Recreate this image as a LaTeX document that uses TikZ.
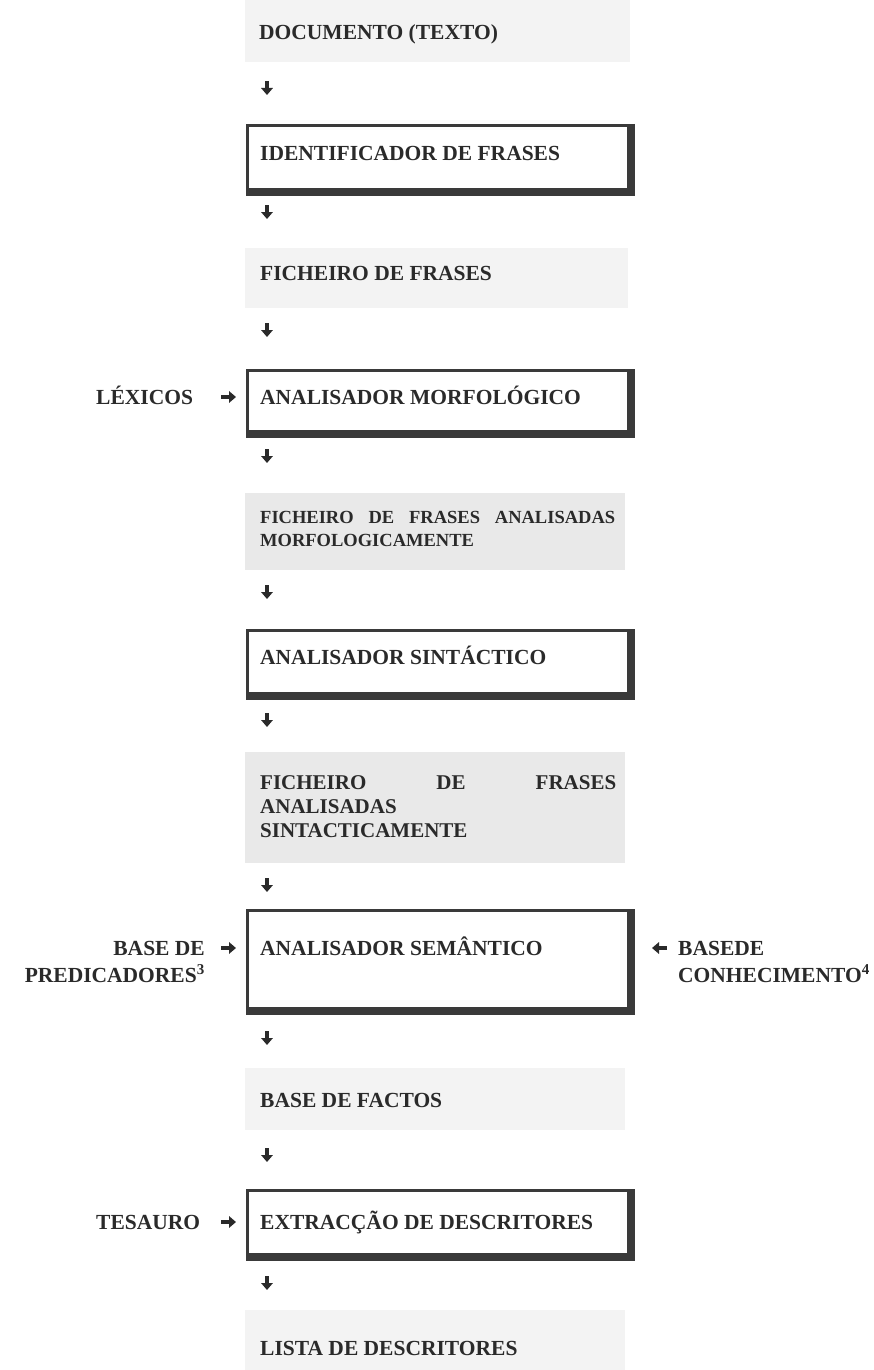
\documentclass[tikz,border=0pt]{standalone}
\usepackage{fontspec}
\setmainfont{Liberation Serif}
\usetikzlibrary{arrows.meta}
\definecolor{ink}{HTML}{2A2A2A}
\definecolor{frame}{HTML}{3A3A3A}
\definecolor{shadeA}{HTML}{E9E9E9}
\definecolor{shadeB}{HTML}{F3F3F3}
\begin{document}
\begin{tikzpicture}[x=1pt,y=-1pt,
  lbl/.style={font=\fontsize{21.5}{27}\selectfont\bfseries, text=ink, inner sep=0pt},
  smalllbl/.style={font=\fontsize{18.5}{23}\selectfont\bfseries, text=ink, inner sep=0pt},
  midlbl/.style={font=\fontsize{21}{24}\selectfont\bfseries, text=ink, inner sep=0pt},
  procbox/.style={draw=frame, line width=3pt, anchor=north west, inner sep=0pt, minimum width=382pt},
  heavy/.style={draw=frame, line width=8pt, line join=miter},
  filebox/.style={fill=shadeA, anchor=north west, inner sep=0pt},
  faintbox/.style={fill=shadeB, anchor=north west, inner sep=0pt},
  arr/.style={draw=ink, line width=3.4pt, -{Triangle[width=11.5pt,length=7pt]}},
]
\useasboundingbox (0,0) rectangle (874,1370);

% shaded file boxes
\node[faintbox, minimum width=385pt, minimum height=62pt] (docbg) at (245,0) {};
\node[faintbox, minimum width=383pt, minimum height=60pt] (ffbg) at (245,248) {};
\node[filebox, minimum width=380pt, minimum height=77pt] (morfbg) at (245,493) {};
\node[filebox, minimum width=380pt, minimum height=111pt] (sintbg) at (245,752) {};
\node[faintbox, minimum width=380pt, minimum height=62pt] (bdfbg) at (245,1068) {};
\node[faintbox, minimum width=380pt, minimum height=60pt] (listabg) at (245,1310) {};

% process boxes
\node[procbox, minimum height=65pt] (ident) at (246,124) {};
\node[procbox, minimum height=62pt] (morf) at (246,369) {};
\node[procbox, minimum height=64pt] (sint) at (246,629) {};
\node[procbox, minimum height=99pt] (sem) at (246,909) {};
\node[procbox, minimum height=65pt] (ext) at (246,1189) {};
\foreach \b in {ident,morf,sint,sem,ext}
  \draw[heavy] (\b.north east) -- (\b.south east) -- (\b.south west);

% texts
\node[lbl, anchor=base west] (doc) at (259,39.5) {DOCUMENTO (TEXTO)};
\node[lbl, anchor=base west] (identt) at (260,160.5) {IDENTIFICADOR DE FRASES};
\node[lbl, anchor=base west] (ff) at (260,280) {FICHEIRO DE FRASES};
\node[lbl, anchor=base west] (morft) at (260,404.5) {ANALISADOR MORFOLÓGICO};
\node[smalllbl, anchor=west, align=left] (morff) at (260,528.5)
  {\makebox[355pt][s]{FICHEIRO DE FRASES ANALISADAS}\\MORFOLOGICAMENTE};
\node[lbl, anchor=base west] (sintt) at (260,664.5) {ANALISADOR SINTÁCTICO};
\node[midlbl, anchor=west, align=left] (sintf) at (260,806.5)
  {\makebox[356pt][s]{FICHEIRO DE FRASES}\\ANALISADAS\\SINTACTICAMENTE};
\node[lbl, anchor=base west] (semt) at (260,955.5) {ANALISADOR SEMÂNTICO};
\node[lbl, anchor=base west] (bdf) at (260,1107.5) {BASE DE FACTOS};
\node[lbl, anchor=base west] (extt) at (260,1229.5) {EXTRACÇÃO DE DESCRITORES};
\node[lbl, anchor=base west] (lista) at (260,1355.5) {LISTA DE DESCRITORES};

% side inputs
\node[lbl, anchor=base west] (lex) at (96,404.5) {LÉXICOS};
\node[lbl, anchor=base west] (tes) at (96,1229.5) {TESAURO};
\node[lbl, anchor=east, align=right] (pred) at (205,962) {BASE DE\\PREDICADORES\textsuperscript{3}};
\node[lbl, anchor=west, align=left] (conh) at (678,962) {BASEDE\\CONHECIMENTO\textsuperscript{4}};

% down arrows
\foreach \i/\y in {1/88,2/212,3/330,4/456,5/592,6/720,7/885,8/1038,9/1155,10/1283}
  \coordinate (d\i) at (267,\y-7);
\foreach \i in {1,...,10}
  \draw[arr] (d\i) -- ++(0,14);

% side arrows
\coordinate (rl) at (221,397);
\coordinate (rp) at (221,948);
\coordinate (rt) at (221,1222);
\coordinate (rc) at (667,948);
\draw[arr] (rl) -- ++(15,0);
\draw[arr] (rp) -- ++(15,0);
\draw[arr] (rt) -- ++(15,0);
\draw[arr] (rc) -- ++(-15,0);
\end{tikzpicture}
\end{document}
